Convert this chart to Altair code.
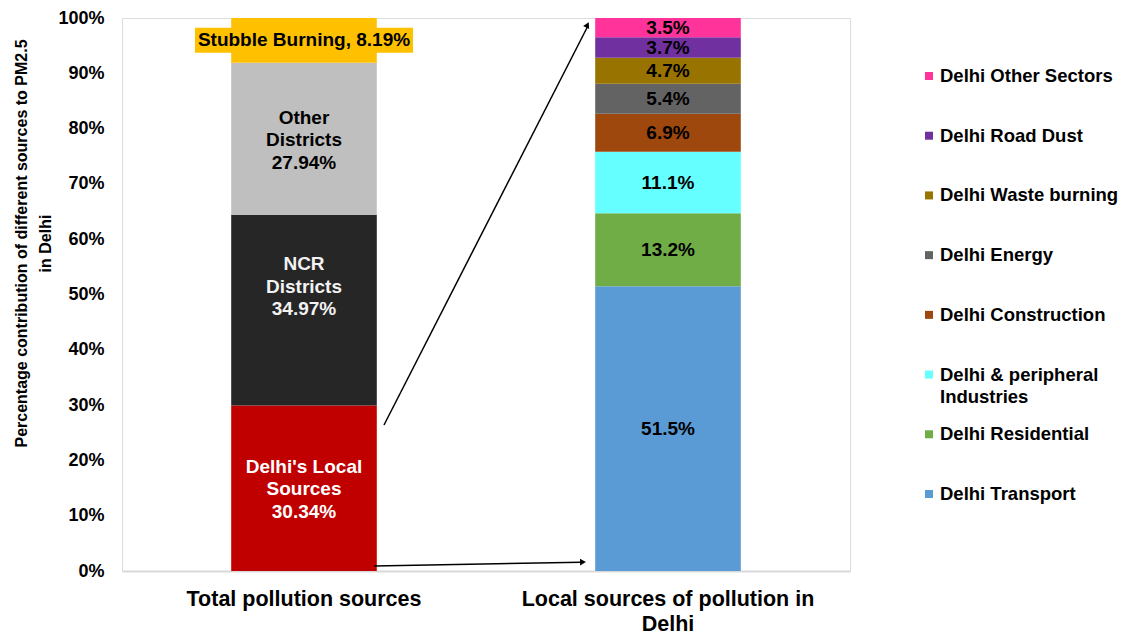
import altair as alt
import pandas as pd

FONT = "Liberation Sans"

# ---------------- data ----------------
categories = ["Total pollution sources", "Local sources of pollution in Delhi"]

total_sources = ["Delhi's Local Sources", "NCR Districts", "Other Districts", "Stubble Burning"]
total_values = [30.34, 34.97, 27.94, 8.19]
total_labels = ["Delhi's Local\nSources\n30.34%", "NCR\nDistricts\n34.97%",
                "Other\nDistricts\n27.94%", "Stubble Burning, 8.19%"]

local_sources = ["Delhi Transport", "Delhi Residential", "Delhi & peripheral Industries",
                 "Delhi Construction", "Delhi Energy", "Delhi Waste burning",
                 "Delhi Road Dust", "Delhi Other Sectors"]
local_values = [51.5, 13.2, 11.1, 6.9, 5.4, 4.7, 3.7, 3.5]
legend_labels = ["Delhi Transport", "Delhi Residential", "Delhi & peripheral\nIndustries",
                 "Delhi Construction", "Delhi Energy", "Delhi Waste burning",
                 "Delhi Road Dust", "Delhi Other Sectors"]

# arrows (annotation anchors, in % units of the y axis)
arrow_ids = ["upper", "lower"]
arrow_from_pct = [26.4, 0.9]
arrow_to_pct = [98.6, 1.6]

# ---------------- styles ----------------
total_colors = ["#C00000", "#262626", "#BFBFBF", "#FFC000"]
local_colors = ["#5B9BD5", "#70AD47", "#66FFFF", "#9E480E", "#636363", "#997300", "#7030A0", "#FF3399"]


def stacked(cat, names, values, labels):
    s = sum(values)
    rows, acc = [], 0.0
    for n, v, lab in zip(names, values, labels):
        p = v / s * 100
        rows.append({"cat": cat, "name": n, "value": v, "label": lab,
                     "y0": acc, "y1": acc + p, "mid": acc + p / 2})
        acc += p
    return pd.DataFrame(rows)


df_total = stacked(categories[0], total_sources, total_values, total_labels)
df_local = stacked(categories[1], local_sources, local_values, [f"{v}%" for v in local_values])
df_local["legend_label"] = legend_labels
df_arrows = pd.DataFrame({"id": arrow_ids, "from_cat": [categories[0]] * 2,
                          "to_cat": [categories[1]] * 2,
                          "from_pct": arrow_from_pct, "to_pct": arrow_to_pct})

x_scale = alt.Scale(domain=categories, paddingInner=0.6, paddingOuter=0.3)
y_scale = alt.Scale(domain=[0, 100], nice=False)
local_color_scale = alt.Scale(domain=local_sources, range=local_colors)

x_enc = alt.X("cat:N", scale=x_scale, title=None, axis=alt.Axis(
    labelExpr="datum.value == 'Local sources of pollution in Delhi' ? ['Local sources of pollution in', 'Delhi'] : datum.label",
    labelFont=FONT, labelFontWeight="bold", labelFontSize=21.5, labelColor="#000000",
    labelLineHeight=25, labelPadding=17, labelAngle=0, labelLimit=0, ticks=False, grid=False,
    domainColor="#D9D9D9", domainWidth=2))

y_enc = alt.Y("y0:Q", scale=y_scale, axis=alt.Axis(
    values=list(range(0, 101, 10)), labelExpr="datum.value + '%'",
    labelFont=FONT, labelFontWeight="bold", labelFontSize=18, labelColor="#000000",
    labelPadding=18, ticks=False, domain=False, grid=False,
    title=["Percentage contribution of different sources to PM2.5", "in Delhi"],
    titleFont=FONT, titleFontWeight="bold", titleFontSize=16, titleColor="#000000",
    titleAngle=270, titleAlign="center", titleBaseline="top", titleLineHeight=24,
    titleX=-109, titleY=225))

bars_total = alt.Chart(df_total).mark_bar().encode(
    x=x_enc, y=y_enc, y2="y1:Q",
    color=alt.Color("name:N", scale=alt.Scale(domain=total_sources, range=total_colors), legend=None),
)

bars_local = alt.Chart(df_local).mark_bar().encode(
    x=alt.X("cat:N", scale=x_scale), y=alt.Y("y0:Q", scale=y_scale), y2="y1:Q",
    color=alt.Color("name:N", scale=local_color_scale, legend=None),
)

stubble_bg = alt.Chart(df_total).transform_filter(
    alt.datum.name == "Stubble Burning"
).mark_tick(color="#FFC000", thickness=25, size=218, opacity=1).encode(
    x=alt.X("cat:N", scale=x_scale), y=alt.Y("mid:Q", scale=y_scale))

text_common = dict(font=FONT, fontWeight="bold", fontSize=19, lineBreak="\n",
                   lineHeight=22.5, align="center", baseline="middle")

text_local_src = alt.Chart(df_total).transform_filter(
    alt.datum.name == "Delhi's Local Sources"
).mark_text(color="#FFFFFF", dy=-21.5, **text_common).encode(
    x=alt.X("cat:N", scale=x_scale), y=alt.Y("mid:Q", scale=y_scale), text="label:N")

text_ncr = alt.Chart(df_total).transform_filter(
    alt.datum.name == "NCR Districts"
).mark_text(color="#F2F2F2", dy=-46, **text_common).encode(
    x=alt.X("cat:N", scale=x_scale), y=alt.Y("mid:Q", scale=y_scale), text="label:N")

text_other = alt.Chart(df_total).transform_filter(
    alt.datum.name == "Other Districts"
).mark_text(color="#000000", dy=-21, **text_common).encode(
    x=alt.X("cat:N", scale=x_scale), y=alt.Y("mid:Q", scale=y_scale), text="label:N")

text_stubble = alt.Chart(df_total).transform_filter(
    alt.datum.name == "Stubble Burning"
).mark_text(color="#000000", **text_common).encode(
    x=alt.X("cat:N", scale=x_scale), y=alt.Y("mid:Q", scale=y_scale), text="label:N")

text_right = alt.Chart(df_local).mark_text(color="#000000", **text_common).encode(
    x=alt.X("cat:N", scale=x_scale), y=alt.Y("mid:Q", scale=y_scale), text="label:N")

arrow_up = alt.Chart(df_arrows).transform_filter(alt.datum.id == "upper")
arrow_lo = alt.Chart(df_arrows).transform_filter(alt.datum.id == "lower")

rule_up = arrow_up.mark_rule(color="#000000", strokeWidth=1.5, xOffset=80, x2Offset=-80).encode(
    x=alt.X("from_cat:N", scale=x_scale), x2="to_cat:N",
    y=alt.Y("from_pct:Q", scale=y_scale), y2="to_pct:Q")
head_up = arrow_up.mark_point(shape="triangle", filled=True, size=45, color="#000000",
                              opacity=1, angle=27, xOffset=-81).encode(
    x=alt.X("to_cat:N", scale=x_scale), y=alt.Y("to_pct:Q", scale=y_scale))

rule_lo = arrow_lo.mark_rule(color="#000000", strokeWidth=1.5, xOffset=70, x2Offset=-87).encode(
    x=alt.X("from_cat:N", scale=x_scale), x2="to_cat:N",
    y=alt.Y("from_pct:Q", scale=y_scale), y2="to_pct:Q")
head_lo = arrow_lo.mark_point(shape="triangle", filled=True, size=45, color="#000000",
                              opacity=1, angle=89, xOffset=-86).encode(
    x=alt.X("to_cat:N", scale=x_scale), y=alt.Y("to_pct:Q", scale=y_scale))

main = alt.layer(
    bars_total, bars_local, stubble_bg, text_local_src, text_ncr, text_other, text_stubble,
    text_right, rule_up, head_up, rule_lo, head_lo
).resolve_scale(color="independent")

# legend drawn as its own layer, rows placed by a point scale (top = Other Sectors)
legend_y = alt.Y("name:N", axis=None, title=None,
                 scale=alt.Scale(type="point", domain=local_sources[::-1], range=[58, 476], padding=0))
legend_sym = alt.Chart(df_local).mark_square(size=64, filled=True, opacity=1).encode(
    x=alt.value(807), y=legend_y,
    color=alt.Color("name:N", scale=local_color_scale, legend=None))
legend_txt = alt.Chart(df_local).mark_text(
    font=FONT, fontWeight="bold", fontSize=18.5, color="#000000", align="left",
    baseline="middle", lineBreak="\n", lineHeight=22).encode(
    x=alt.value(818), y=legend_y, text="legend_label:N")
legend_layer = alt.layer(legend_sym, legend_txt)

chart = alt.layer(main, legend_layer).resolve_scale(
    y="independent", color="independent"
).properties(
    width=728, height=553,
    autosize=alt.AutoSizeParams(type="none"),
    padding={"left": 114, "top": 10, "right": 271, "bottom": 64},
).configure_view(stroke=None).configure(background="#FFFFFF")

chart.save("out.html", embed_options={"renderer": "svg", "actions": False})
